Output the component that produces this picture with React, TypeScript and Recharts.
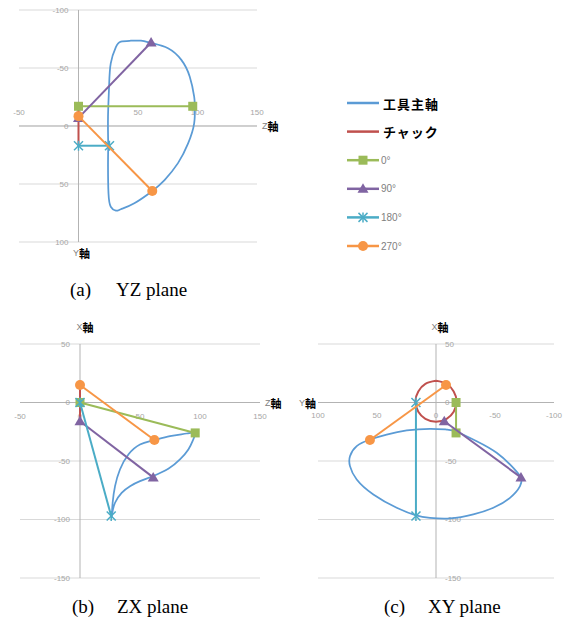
import React from "react";
import {
  CartesianGrid,
  ReferenceLine,
  Scatter,
  ScatterChart,
  XAxis,
  YAxis,
} from "recharts";

const SERIES_NAMES = ["工具主軸", "チャック", "0°", "90°", "180°", "270°"];
const SERIES_COLORS = ["#5B9BD5", "#C0504D", "#9BBB59", "#8064A2", "#4BACC6", "#F79646"];
const ANGLE_MARKERS = ["square", "triangle", "star", "circle"];

// 0°/90°/180°/270°: chuck point -> tool point (X, Y, Z)
const ANGLE_START_X = [0, -16, 0, 15];
const ANGLE_START_Y = [-17, -7, 17, -8.5];
const ANGLE_START_Z = [0, 0, 0, 0];
const ANGLE_END_X = [-26, -64, -97, -32];
const ANGLE_END_Y = [-17, -72, 17, 56];
const ANGLE_END_Z = [96, 61, 26, 62];

// chuck circle
const CHUCK_X = [18.5, 16, 9.5, 1, -8, -14, -16.5, -14, -8, 1, 9.5, 16, 18.5];
const CHUCK_Y = [0, -9, -15, -17.5, -15, -9, 0, 9, 15, 17.5, 15, 9, 0];
const CHUCK_Z = [0, 0, 0, 0, 0, 0, 0, 0, 0, 0, 0, 0, 0];

// tool spindle path, read separately in each plane
const YZ_Z = [25, 24.8, 25.7, 27.1, 31.4, 35.6, 44, 52.5, 62, 75.2, 86.4, 93.5, 97.2, 97.7, 97.2, 92.1, 83.6, 72.3, 62, 46.9, 35.6, 31.4, 27.1, 25.2, 24.8, 25];
const YZ_Y = [17, -8, -34, -54, -68, -72.7, -73.5, -73.5, -71.3, -67, -57, -42.5, -25.3, -17, -2.3, 15, 32, 46.6, 56, 66.6, 71.8, 73, 69.6, 58, 35, 17];

const ZX_Z = [26.4, 27.2, 29.2, 33.3, 40.3, 50, 60.6, 75, 88.9, 95.8, 94.4, 90.3, 83.3, 73.6, 60.6, 50, 41.7, 34.7, 29.2, 26.9, 26.4];
const ZX_X = [-98.6, -85.7, -71.5, -57.3, -44.4, -35.9, -32.5, -28.8, -26.5, -25.9, -31.6, -40.2, -48.7, -56.7, -63, -67.2, -71.5, -77.2, -85.7, -94.3, -98.6];

const XY_Y = [-72.6, -71.2, -62.7, -48.6, -31.6, -11.9, 5.1, 16.9, 33.3, 53.1, 67.2, 72.9, 72.9, 67.2, 55.9, 41.8, 24.8, 5.1, -9.1, -17.5, -34.5, -51.4, -65.5, -72.6];
const XY_X = [-64.4, -71.5, -81.5, -90, -95.7, -99.1, -98.6, -96.5, -90, -78.6, -65.8, -54.4, -45.9, -37.3, -31.6, -27.4, -23.9, -22.5, -23.1, -25, -33.1, -43, -55.8, -64.4];

const TICKS_A_X = [-50, 0, 50, 100, 150];
const TICKS_A_Y = [-100, -50, 0, 50, 100];
const TICKS_B_X = [-50, 0, 50, 100, 150];
const TICKS_B_Y = [50, 0, -50, -100, -150];
const TICKS_C_X = [100, 50, 0, -50, -100];
const TICKS_C_Y = [50, 0, -50, -100, -150];

type Axis3 = "X" | "Y" | "Z";
type Pt = { x: number; y: number; label?: string };

const START: Record<Axis3, number[]> = { X: ANGLE_START_X, Y: ANGLE_START_Y, Z: ANGLE_START_Z };
const END: Record<Axis3, number[]> = { X: ANGLE_END_X, Y: ANGLE_END_Y, Z: ANGLE_END_Z };
const CHUCK: Record<Axis3, number[]> = { X: CHUCK_X, Y: CHUCK_Y, Z: CHUCK_Z };

const pairs = (h: number[], v: number[]): Pt[] => h.map((x, i) => ({ x, y: v[i] }));

const TICK_FONT = "'Liberation Sans', Arial, sans-serif";

function Marker({ kind, cx, cy, color }: { kind: string; cx: number; cy: number; color: string }) {
  if (kind === "square") return <rect x={cx - 4.5} y={cy - 4.5} width={9} height={9} fill={color} />;
  if (kind === "triangle")
    return <polygon points={`${cx},${cy - 5.5} ${cx + 5.5},${cy + 4} ${cx - 5.5},${cy + 4}`} fill={color} />;
  if (kind === "circle") return <circle cx={cx} cy={cy} r={5} fill={color} />;
  return (
    <g stroke={color} strokeWidth={1.5}>
      <line x1={cx} y1={cy - 5} x2={cx} y2={cy + 5} />
      <line x1={cx - 4.5} y1={cy - 4.5} x2={cx + 4.5} y2={cy + 4.5} />
      <line x1={cx - 4.5} y1={cy + 4.5} x2={cx + 4.5} y2={cy - 4.5} />
    </g>
  );
}

function axisTitle(text: string, side: "right" | "left" | "top" | "bottom", dx = 0) {
  return (props: any) => {
    const vb = props.viewBox || { x: 0, y: 0, width: 0, height: 0 };
    let x = vb.x + dx;
    let y = vb.y;
    let anchor = "middle";
    if (side === "right") {
      x = vb.x + vb.width + 5;
      anchor = "start";
    } else if (side === "left") {
      x = vb.x - 2;
      anchor = "end";
    } else if (side === "top") {
      y = vb.y - 17;
    } else {
      y = vb.y + vb.height + 11;
    }
    return (
      <text x={x} y={y} textAnchor={anchor} dominantBaseline="central">
        <tspan fontSize={9} fill="#808080" fontFamily={TICK_FONT}>
          {text[0]}
        </tspan>
        <tspan fontSize={11} fontWeight="bold" fill="#000" fontFamily="'Noto Sans CJK JP', sans-serif">
          {text.slice(1)}
        </tspan>
      </text>
    );
  };
}

interface PlaneProps {
  left: number;
  top: number;
  width: number;
  height: number;
  margin: { top: number; right: number; bottom: number; left: number };
  h: Axis3;
  v: Axis3;
  spindle: Pt[];
  xTicks: number[];
  yTicks: number[];
  xReversed?: boolean;
  yReversed?: boolean;
  xLabelDy: number;
  yLabelDx: number;
  yLabelAnchor: "start" | "end";
  hTitle: [string, "right" | "left"];
  vTitle: [string, "top" | "bottom", number];
  chuckCurve: "natural" | "linear";
}

function Plane(p: PlaneProps) {
  const xDomain = [Math.min(...p.xTicks), Math.max(...p.xTicks)];
  const yDomain = [Math.min(...p.yTicks), Math.max(...p.yTicks)];
  const xTickData: Pt[] = p.xTicks.map((t) => ({ x: t, y: 0, label: String(t) }));
  const yTickData: Pt[] = p.yTicks.map((t) => ({ x: 0, y: t, label: String(t) }));
  const chuck = pairs(CHUCK[p.h], CHUCK[p.v]);
  const angles = ANGLE_MARKERS.map((_, i) => [
    { x: START[p.h][i], y: START[p.v][i] },
    { x: END[p.h][i], y: END[p.v][i] },
  ]);
  return (
    <div style={{ position: "absolute", left: p.left, top: p.top }}>
      <ScatterChart width={p.width} height={p.height} margin={p.margin}>
        <CartesianGrid vertical={false} stroke="#d9d9d9" />
        <XAxis type="number" dataKey="x" domain={xDomain} ticks={p.xTicks} reversed={p.xReversed} hide />
        <YAxis type="number" dataKey="y" domain={yDomain} ticks={p.yTicks} reversed={p.yReversed} hide />
        <ReferenceLine y={0} stroke="#b3b3b3" label={axisTitle(p.hTitle[0], p.hTitle[1])} />
        <ReferenceLine x={0} stroke="#b3b3b3" label={axisTitle(p.vTitle[0], p.vTitle[1], p.vTitle[2])} />
        <Scatter
          data={xTickData}
          isAnimationActive={false}
          shape={(s: any) => (
            <text x={s.cx} y={s.cy + p.xLabelDy} textAnchor="middle" dominantBaseline="central" fontSize={8} fill="#a6a6a6" fontFamily={TICK_FONT}>
              {s.payload.label}
            </text>
          )}
        />
        <Scatter
          data={yTickData}
          isAnimationActive={false}
          shape={(s: any) => (
            <text x={s.cx + p.yLabelDx} y={s.cy} textAnchor={p.yLabelAnchor} dominantBaseline="central" fontSize={8} fill="#a6a6a6" fontFamily={TICK_FONT}>
              {s.payload.label}
            </text>
          )}
        />
        <Scatter
          name={SERIES_NAMES[0]}
          data={p.spindle}
          fill={SERIES_COLORS[0]}
          line={{ stroke: SERIES_COLORS[0], strokeWidth: 1.75 }}
          lineJointType="natural"
          shape={() => <g />}
          isAnimationActive={false}
        />
        <Scatter
          name={SERIES_NAMES[1]}
          data={chuck}
          fill={SERIES_COLORS[1]}
          line={{ stroke: SERIES_COLORS[1], strokeWidth: 2 }}
          lineJointType={p.chuckCurve}
          shape={() => <g />}
          isAnimationActive={false}
        />
        {angles.map((d, i) => (
          <Scatter
            key={i}
            name={SERIES_NAMES[i + 2]}
            data={d}
            fill={SERIES_COLORS[i + 2]}
            line={{ stroke: SERIES_COLORS[i + 2], strokeWidth: 2 }}
            shape={(s: any) => <Marker kind={ANGLE_MARKERS[i]} cx={s.cx} cy={s.cy} color={SERIES_COLORS[i + 2]} />}
            isAnimationActive={false}
          />
        ))}
      </ScatterChart>
    </div>
  );
}

function LegendBox() {
  return (
    <svg width={130} height={175} style={{ position: "absolute", left: 340, top: 90 }}>
      {SERIES_NAMES.map((name, i) => {
        const y = 13 + i * 28.6;
        const bold = i < 2;
        return (
          <g key={name}>
            <line x1={7} x2={39} y1={y} y2={y} stroke={SERIES_COLORS[i]} strokeWidth={2.5} />
            {i >= 2 && <Marker kind={ANGLE_MARKERS[i - 2]} cx={23} cy={y} color={SERIES_COLORS[i]} />}
            <text
              x={bold ? 43 : 41}
              y={y}
              dominantBaseline="central"
              fontSize={bold ? 13 : 10}
              fontWeight={bold ? "bold" : "normal"}
              fill={bold ? "#000" : "#808080"}
              fontFamily={bold ? "'Noto Sans CJK JP', sans-serif" : TICK_FONT}
              letterSpacing={bold ? 1 : 0}
            >
              {name}
            </text>
          </g>
        );
      })}
    </svg>
  );
}

const captionStyle: React.CSSProperties = {
  position: "absolute",
  fontFamily: "'Liberation Serif', 'Times New Roman', serif",
  fontSize: 19,
  lineHeight: "22px",
  color: "#000",
  whiteSpace: "nowrap",
};

export default function App() {
  return (
    <div style={{ position: "absolute", left: 0, top: 0, width: 565, height: 623, background: "#fff", overflow: "hidden" }}>
      <Plane
        left={0}
        top={0}
        width={295}
        height={262}
        margin={{ top: 10, right: 38, bottom: 20, left: 19 }}
        h="Z"
        v="Y"
        spindle={pairs(YZ_Z, YZ_Y)}
        xTicks={TICKS_A_X}
        yTicks={TICKS_A_Y}
        yReversed
        xLabelDy={-14}
        yLabelDx={-10}
        yLabelAnchor="end"
        hTitle={["Z軸", "right"]}
        vTitle={["Y軸", "bottom", 3]}
        chuckCurve="linear"
      />
      <Plane
        left={0}
        top={310}
        width={295}
        height={290}
        margin={{ top: 34, right: 35, bottom: 22, left: 20 }}
        h="Z"
        v="X"
        spindle={pairs(ZX_Z, ZX_X)}
        xTicks={TICKS_B_X}
        yTicks={TICKS_B_Y}
        xLabelDy={14}
        yLabelDx={-10}
        yLabelAnchor="end"
        hTitle={["Z軸", "right"]}
        vTitle={["X軸", "top", 5]}
        chuckCurve="linear"
      />
      <Plane
        left={290}
        top={310}
        width={275}
        height={290}
        margin={{ top: 34, right: 11, bottom: 22, left: 28 }}
        h="Y"
        v="X"
        spindle={pairs(XY_Y, XY_X)}
        xTicks={TICKS_C_X}
        yTicks={TICKS_C_Y}
        xReversed
        xLabelDy={13}
        yLabelDx={9}
        yLabelAnchor="start"
        hTitle={["Y軸", "left"]}
        vTitle={["X軸", "top", 4]}
        chuckCurve="natural"
      />
      <LegendBox />
      <span style={{ ...captionStyle, left: 70, top: 279 }}>(a)</span>
      <span style={{ ...captionStyle, left: 116, top: 279 }}>YZ plane</span>
      <span style={{ ...captionStyle, left: 72, top: 596 }}>(b)</span>
      <span style={{ ...captionStyle, left: 117, top: 596 }}>ZX plane</span>
      <span style={{ ...captionStyle, left: 384, top: 596 }}>(c)</span>
      <span style={{ ...captionStyle, left: 428, top: 596 }}>XY plane</span>
    </div>
  );
}
